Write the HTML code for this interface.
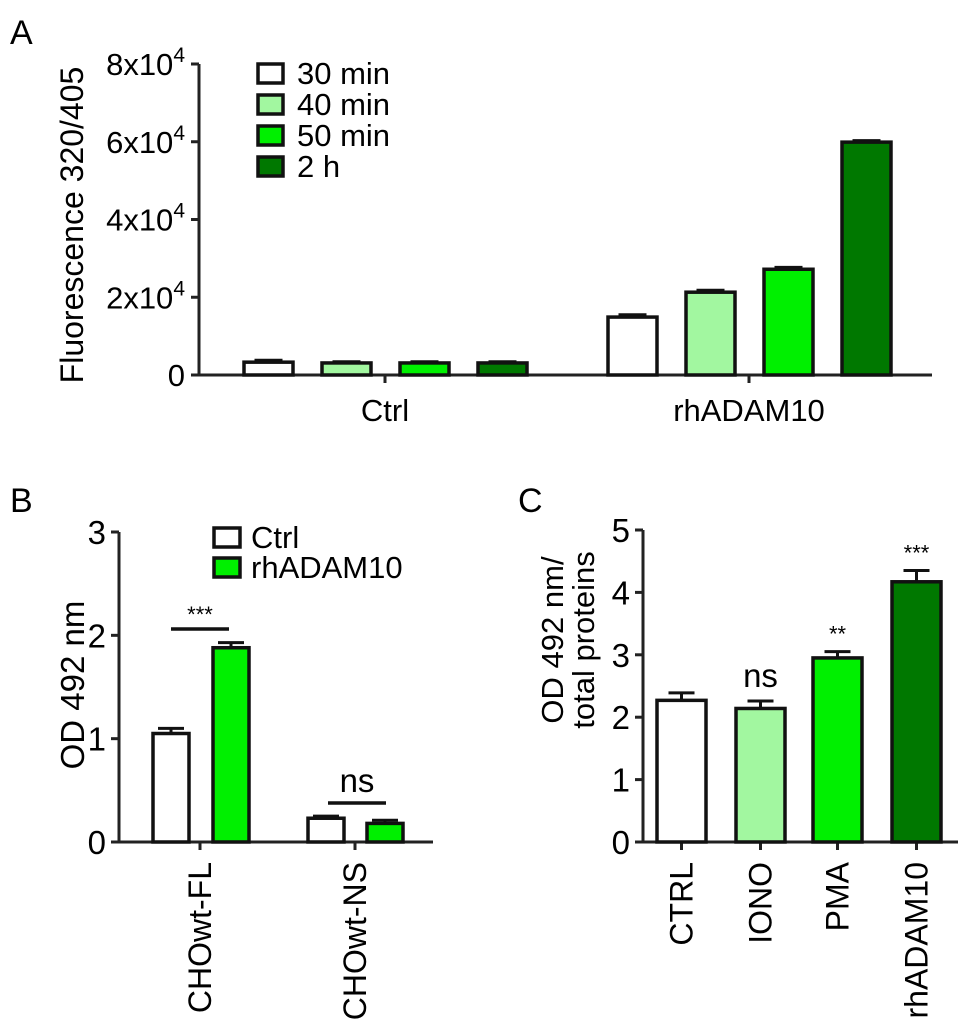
<!DOCTYPE html>
<html><head><meta charset="utf-8"><style>
html,body{margin:0;padding:0;background:#fff}
svg{display:block;font-family:"Liberation Sans",Arial,sans-serif}
</style></head><body>
<svg id="fig" width="969" height="1031" viewBox="0 0 969 1031" xmlns="http://www.w3.org/2000/svg">
<text x="10" y="44" font-size="34">A</text>
<text x="10" y="512" font-size="34">B</text>
<text x="518" y="512" font-size="34">C</text>
<g id="pa"></g>
<g id="pb"></g>
<g id="pc"></g>
</svg>
<script>
// Panel A data
const aGroups = ["Ctrl", "rhADAM10"];
const aSeries = ["30 min", "40 min", "50 min", "2 h"];
const aCtrl = [3300, 3100, 3100, 3100];
const aRh = [14900, 21300, 27200, 59900];
const aErrCtrl = [500, 300, 300, 300];
const aErrRh = [600, 500, 500, 400];
const aTicks = [0, 20000, 40000, 60000, 80000];
const aTickLabels = ["0", "2", "4", "6", "8"];
// Panel B data
const bGroups = ["CHOwt-FL", "CHOwt-NS"];
const bSeries = ["Ctrl", "rhADAM10"];
const bCtrl = [1.05, 0.23];
const bRh = [1.88, 0.18];
const bErrCtrl = [0.05, 0.02];
const bErrRh = [0.05, 0.03];
const bTicks = [0, 1, 2, 3];
// Panel C data
const cCats = ["CTRL", "IONO", "PMA", "rhADAM10"];
const cVals = [2.27, 2.14, 2.95, 4.17];
const cErr = [0.12, 0.12, 0.10, 0.18];
const cSig = ["", "ns", "**", "***"];
const cTicks = [0, 1, 2, 3, 4, 5];

const NS = "http://www.w3.org/2000/svg";
const fills = ["#ffffff", "#a2f7a0", "#00f000", "#007800"];
function mk(parent, tag, attrs, txt) {
  const e = document.createElementNS(NS, tag);
  for (const k in attrs) e.setAttribute(k, attrs[k]);
  if (txt !== undefined) e.textContent = txt;
  parent.appendChild(e);
  return e;
}
function errBar(g, x, w, yTop, yErr) {
  const l = mk(g, "line", {x1: x, x2: x, y1: yTop, y2: yErr, stroke: "#111", "stroke-width": 3});
  
  
  const c = mk(g, "line", {x1: x - w/2, x2: x + w/2, y1: yErr, y2: yErr, stroke: "#111", "stroke-width": 3});
  
  
}
function bar(g, x0, x1, y, y0, fill, name) {
  const r = mk(g, "rect", {x: x0, y: y, width: x1 - x0, height: y0 - y, fill: fill, stroke: "#111", "stroke-width": 3.5});
  
  
}

// ---------- Panel A ----------
(function(){
  const g = document.getElementById("pa");
  const ax = 199, y0 = 375, yTop = 64, vMax = 80000;
  const Y = v => y0 - (v / vMax) * (y0 - yTop);
  const ctrlX = [244, 322, 400, 478], rhX = [608, 686, 764, 842], bw = 49;
  mk(g, "line", {x1: ax, x2: ax, y1: yTop, y2: y0, stroke: "#222", "stroke-width": 3});
  mk(g, "line", {x1: ax - 2, x2: 932, y1: y0, y2: y0, stroke: "#222", "stroke-width": 3});
  aTicks.forEach((t, i) => {
    const y = Y(t);
    mk(g, "line", {x1: ax - 8, x2: ax, y1: y, y2: y, stroke: "#222", "stroke-width": 3});
    const tx = mk(g, "text", {x: ax - 14, y: y + 11, "font-size": 31, "text-anchor": "end"});
    
    
    if (t === 0) { tx.textContent = "0"; }
    else {
      tx.textContent = aTickLabels[i] + "x10";
      mk(tx, "tspan", {"font-size": 21, dy: -13}, "4");
    }
  });
  const yt = mk(g, "text", {x: 0, y: 0, "font-size": 32, "text-anchor": "middle", transform: "translate(83,225) rotate(-90)"}, "Fluorescence 320/405");
  
  
  [[aCtrl, aErrCtrl, ctrlX, 385, 0], [aRh, aErrRh, rhX, 749, 1]].forEach(([vals, errs, xs, tick, gi]) => {
    mk(g, "line", {x1: tick, x2: tick, y1: y0, y2: y0 + 8, stroke: "#222", "stroke-width": 3});
    const lb = mk(g, "text", {x: tick, y: y0 + 46, "font-size": 31, "text-anchor": "middle"}, aGroups[gi]);
    
    
    vals.forEach((v, i) => {
      errBar(g, xs[i] + bw/2, 28, Y(v), Y(v + errs[i]));
      bar(g, xs[i], xs[i] + bw, Y(v), y0, fills[i], "bar-" + aGroups[gi].toLowerCase() + "-" + i);
    });
  });
  aSeries.forEach((s, i) => {
    const cy = 73 + i * 31;
    const r = mk(g, "rect", {x: 258, y: cy - 9, width: 25, height: 19, fill: fills[i], stroke: "#111", "stroke-width": 3.5});
    
    
    const t = mk(g, "text", {x: 297, y: cy + 11, "font-size": 31}, s);
    
    
  });
})();

// ---------- Panel B ----------
(function(){
  const g = document.getElementById("pb");
  const ax = 119, y0 = 842, yTop = 532, vMax = 3;
  const Y = v => y0 - (v / vMax) * (y0 - yTop);
  const ctrlX = [153, 308], rhX = [213, 367], bw = 36, ticksX = [200, 355];
  mk(g, "line", {x1: ax, x2: ax, y1: yTop, y2: y0, stroke: "#222", "stroke-width": 3});
  mk(g, "line", {x1: ax - 2, x2: 433, y1: y0, y2: y0, stroke: "#222", "stroke-width": 3});
  bTicks.forEach(t => {
    const y = Y(t);
    mk(g, "line", {x1: ax - 8, x2: ax, y1: y, y2: y, stroke: "#222", "stroke-width": 3});
    const tx = mk(g, "text", {x: ax - 13, y: y + 12, "font-size": 33, "text-anchor": "end"}, String(t));
    
    
  });
  const yt = mk(g, "text", {x: 0, y: 0, "font-size": 33, "text-anchor": "middle", transform: "translate(84,685) rotate(-90)"}, "OD 492 nm");
  
  
  bGroups.forEach((grp, i) => {
    mk(g, "line", {x1: ticksX[i], x2: ticksX[i], y1: y0, y2: y0 + 8, stroke: "#222", "stroke-width": 3});
    const lb = mk(g, "text", {x: 0, y: 0, "font-size": 32, "text-anchor": "end", transform: `translate(${ticksX[i] + 11},862) rotate(-90)`}, grp);
    
    
    errBar(g, ctrlX[i] + bw/2, 26, Y(bCtrl[i]), Y(bCtrl[i] + bErrCtrl[i]));
    bar(g, ctrlX[i], ctrlX[i] + bw, Y(bCtrl[i]), y0, fills[0], "bar-ctrl-" + grp.toLowerCase());
    errBar(g, rhX[i] + bw/2, 26, Y(bRh[i]), Y(bRh[i] + bErrRh[i]));
    bar(g, rhX[i], rhX[i] + bw, Y(bRh[i]), y0, fills[2], "bar-rhadam10-" + grp.toLowerCase());
  });
  const s1 = mk(g, "line", {x1: 171, x2: 229, y1: 629, y2: 629, stroke: "#111", "stroke-width": 3.5});
  
  
  const t1 = mk(g, "text", {x: 200, y: 622, "font-size": 22, "text-anchor": "middle"}, "***");
  
  
  const s2 = mk(g, "line", {x1: 328, x2: 386, y1: 803, y2: 803, stroke: "#111", "stroke-width": 3.5});
  
  
  const t2 = mk(g, "text", {x: 357, y: 792, "font-size": 33, "text-anchor": "middle"}, "ns");
  
  
  bSeries.forEach((s, i) => {
    const cy = 537 + i * 30;
    const r = mk(g, "rect", {x: 214, y: cy - 9, width: 26, height: 19, fill: fills[i * 2], stroke: "#111", "stroke-width": 3.5});
    
    
    const t = mk(g, "text", {x: 251, y: cy + 11, "font-size": 31}, s);
    
    
  });
})();

// ---------- Panel C ----------
(function(){
  const g = document.getElementById("pc");
  const ax = 643, y0 = 842, yTop = 530, vMax = 5;
  const Y = v => y0 - (v / vMax) * (y0 - yTop);
  const xs = [657, 736, 813, 892], bw = 49;
  mk(g, "line", {x1: ax, x2: ax, y1: yTop, y2: y0, stroke: "#222", "stroke-width": 3});
  mk(g, "line", {x1: ax - 2, x2: 958, y1: y0, y2: y0, stroke: "#222", "stroke-width": 3});
  cTicks.forEach(t => {
    const y = Y(t);
    mk(g, "line", {x1: ax - 8, x2: ax, y1: y, y2: y, stroke: "#222", "stroke-width": 3});
    const tx = mk(g, "text", {x: ax - 13, y: y + 12, "font-size": 33, "text-anchor": "end"}, String(t));
    
    
  });
  const yt1 = mk(g, "text", {x: 0, y: 0, "font-size": 31, "text-anchor": "middle", transform: "translate(563,640) rotate(-90)"}, "OD 492 nm/");
  
  
  const yt2 = mk(g, "text", {x: 0, y: 0, "font-size": 31, "text-anchor": "middle", transform: "translate(594,640) rotate(-90)"}, "total proteins");
  
  
  cCats.forEach((c, i) => {
    const cx = xs[i] + bw/2;
    mk(g, "line", {x1: cx, x2: cx, y1: y0, y2: y0 + 8, stroke: "#222", "stroke-width": 3});
    const lb = mk(g, "text", {x: 0, y: 0, "font-size": 32, "text-anchor": "end", transform: `translate(${cx + 11},862) rotate(-90)`}, c);
    
    
    errBar(g, cx, 26, Y(cVals[i]), Y(cVals[i] + cErr[i]));
    bar(g, xs[i], xs[i] + bw, Y(cVals[i]), y0, fills[i], "bar-" + c.toLowerCase());
    if (cSig[i]) {
      const big = cSig[i] === "ns";
      const t = mk(g, "text", {x: cx, y: Y(cVals[i] + cErr[i]) - (big ? 14 : 10), "font-size": big ? 33 : 22, "text-anchor": "middle"}, cSig[i]);
      
      
    }
  });
})();
</script>
</body></html>
